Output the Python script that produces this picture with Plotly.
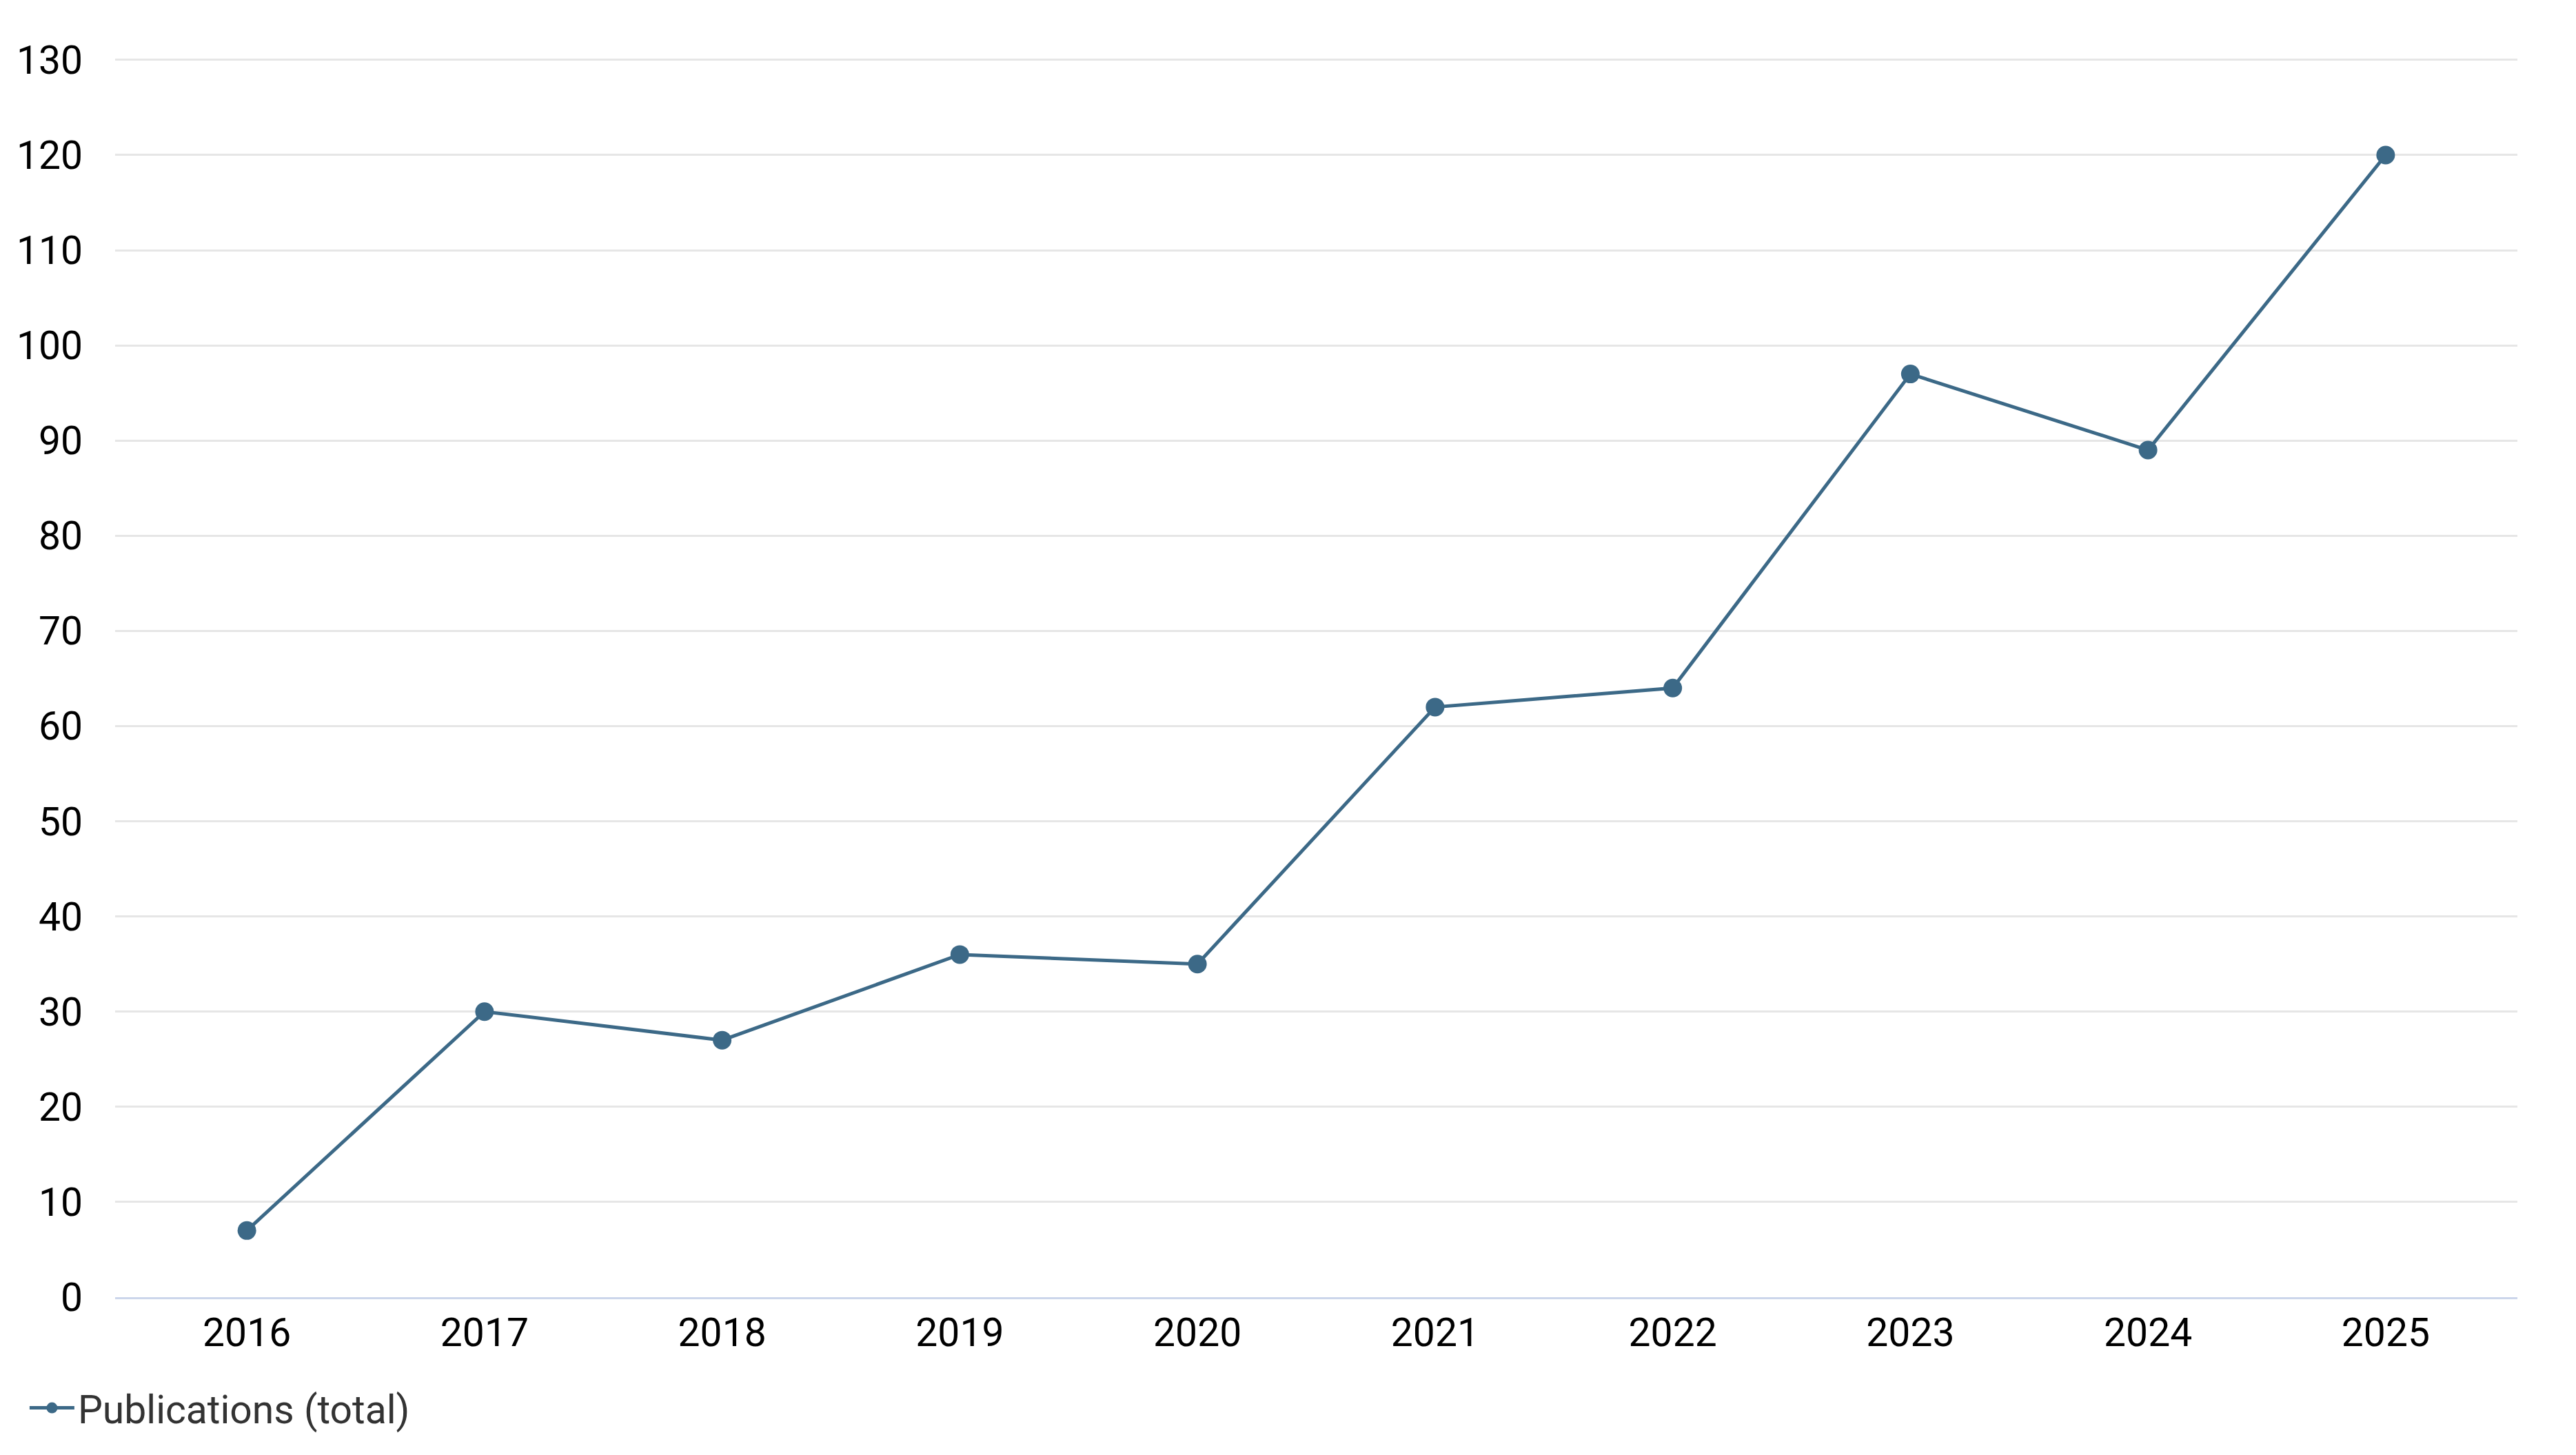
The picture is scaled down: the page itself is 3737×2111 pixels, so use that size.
import plotly.graph_objects as go

# Publications per year
years = ["2016", "2017", "2018", "2019", "2020", "2021", "2022", "2023", "2024", "2025"]
publications = [7, 30, 27, 36, 35, 62, 64, 97, 89, 120]
y_ticks = list(range(0, 131, 10))

line_color = "#3c6987"

fig = go.Figure()
fig.add_trace(go.Scatter(
    x=years,
    y=publications,
    mode="lines+markers",
    name="Publications (total)",
    line=dict(color=line_color, width=5),
    marker=dict(color=line_color, size=27),
))

fig.update_layout(
    width=3737,
    height=2111,
    # plot area: left 159, right 3644, top 72 (130 gridline at 79), bottom 1874
    margin=dict(l=159, r=93, t=72, b=237),
    paper_bgcolor="white",
    plot_bgcolor="white",
    font=dict(family="Roboto", size=57, color="#000000"),
    showlegend=True,
    legend=dict(
        orientation="h",
        xref="container", yref="container",
        x=0.008, y=0.036,
        xanchor="left", yanchor="middle",
        itemwidth=65,
        font=dict(size=57, color="#333333"),
    ),
    xaxis=dict(
        type="category",
        showgrid=False,
        showline=True,
        linecolor="#ccd6eb",
        linewidth=3,
        ticks="",
        ticklabelstandoff=0,
        tickfont=dict(size=57, color="#000000"),
    ),
    yaxis=dict(
        range=[0, 130.5],
        tickvals=y_ticks,
        showgrid=True,
        gridcolor="#e6e6e6",
        gridwidth=3,
        zeroline=False,
        showline=False,
        ticks="",
        ticklabelstandoff=46,
        tickfont=dict(size=57, color="#000000"),
    ),
)

fig.write_html("out.html")
